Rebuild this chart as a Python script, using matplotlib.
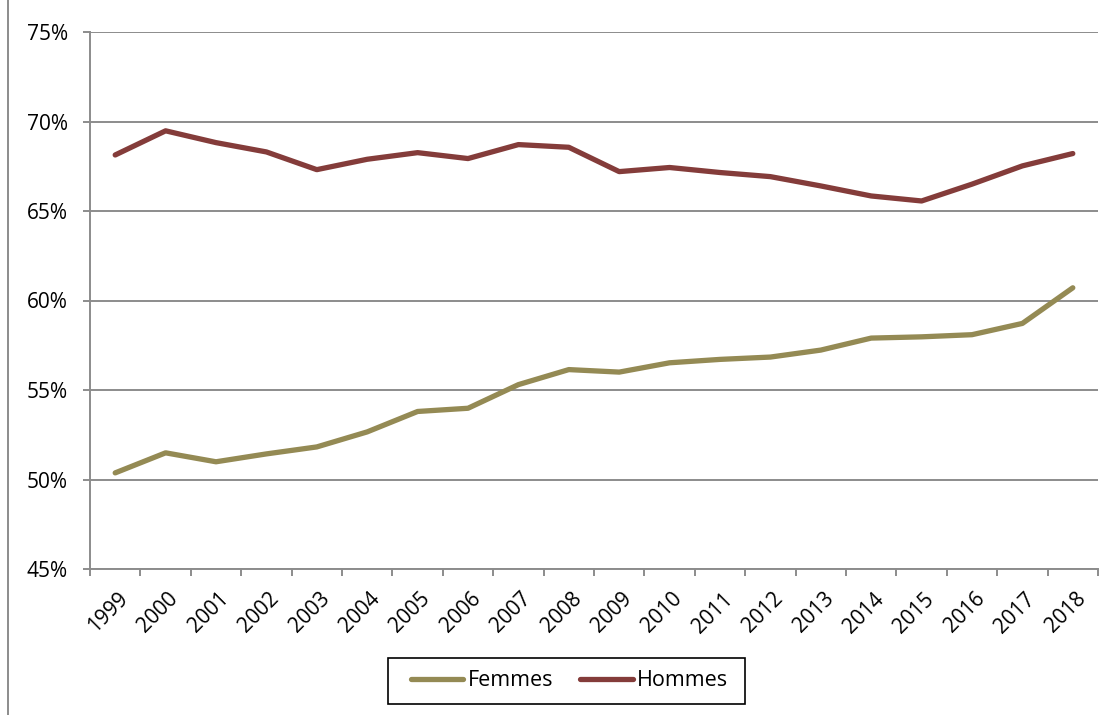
import matplotlib
matplotlib.use("Agg")
import matplotlib.pyplot as plt
from matplotlib.ticker import FuncFormatter, FixedLocator, NullFormatter
from matplotlib.patches import Rectangle
import matplotlib.transforms as mtrans

years = ["1999", "2000", "2001", "2002", "2003", "2004", "2005", "2006", "2007", "2008",
         "2009", "2010", "2011", "2012", "2013", "2014", "2015", "2016", "2017", "2018"]
femmes = [50.37, 51.49, 50.99, 51.43, 51.82, 52.66, 53.8, 53.98, 55.3, 56.14,
          56.0, 56.52, 56.71, 56.84, 57.23, 57.9, 57.97, 58.09, 58.72, 60.71]
hommes = [68.13, 69.48, 68.82, 68.3, 67.31, 67.89, 68.26, 67.93, 68.71, 68.56,
          67.2, 67.43, 67.15, 66.92, 66.4, 65.84, 65.56, 66.5, 67.52, 68.21]
y_ticks = [45, 50, 55, 60, 65, 70, 75]

plt.rcParams['font.family'] = ['Open Sans', 'DejaVu Sans']

W, H = 1114, 715
fig = plt.figure(figsize=(W / 100, H / 100), dpi=100)
ax = fig.add_axes([90 / W, 1 - 569 / H, (1098 - 90) / W, (569 - 32) / H])

x = list(range(len(years)))
ax.plot(x, femmes, color='#948A54', lw=3.8, solid_capstyle='round', label='Femmes', zorder=3)
ax.plot(x, hommes, color='#843C3A', lw=3.8, solid_capstyle='round', label='Hommes', zorder=3)

ax.set_xlim(-0.5, len(years) - 0.5)
ax.set_ylim(45, 75)
ax.set_yticks(y_ticks)
ax.yaxis.set_major_formatter(FuncFormatter(lambda v, p: f"{int(round(v))}%"))
ax.grid(axis='y', color='#8C8C8C', lw=1.4)
ax.set_axisbelow(True)

# x ticks at category boundaries, labels at centers
ax.xaxis.set_major_locator(FixedLocator([i - 0.5 for i in range(len(years) + 1)]))
ax.xaxis.set_major_formatter(NullFormatter())
ax.set_xticks(x, minor=True)
ax.set_xticklabels(years, minor=True)
ax.tick_params(axis='x', which='minor', length=0, labelsize=15, pad=14)
ax.tick_params(axis='x', which='major', length=5.3, color='#8C8C8C', width=1.4)
ax.tick_params(axis='y', length=5.3, color='#8C8C8C', width=1.4, labelsize=15, pad=10.5)
offset = mtrans.ScaledTranslation(1.5 / 72, 0, fig.dpi_scale_trans)
for lab in ax.get_xticklabels(minor=True):
    lab.set_rotation(45)
    lab.set_ha('right')
    lab.set_va('top')
    lab.set_rotation_mode('anchor')
    lab.set_transform(lab.get_transform() + offset)

for s in ['top', 'right']:
    ax.spines[s].set_visible(False)
for s in ['left', 'bottom']:
    ax.spines[s].set_color('#8C8C8C')
    ax.spines[s].set_linewidth(1.4)

# left outer border line
fig.add_artist(plt.Line2D([8 / W, 8 / W], [0, 1], color='#8C8C8C', lw=1.4, transform=fig.transFigure))

# legend box
bx0, bx1, by0, by1 = 388, 745, 658, 704
fig.add_artist(Rectangle((bx0 / W, 1 - by1 / H), (bx1 - bx0) / W, (by1 - by0) / H,
                         transform=fig.transFigure, fill=False, edgecolor='black', lw=1.2))
leg = fig.legend(loc='center', bbox_to_anchor=((bx0 + bx1) / 2 / W + 3 / W, 1 - (by0 + by1) / 2 / H), ncol=2,
                 frameon=False, fontsize=15.5,
                 handlelength=2.45, handletextpad=0.2, columnspacing=1.25,
                 borderpad=0.0)

fig.savefig('out.png', dpi=100)
